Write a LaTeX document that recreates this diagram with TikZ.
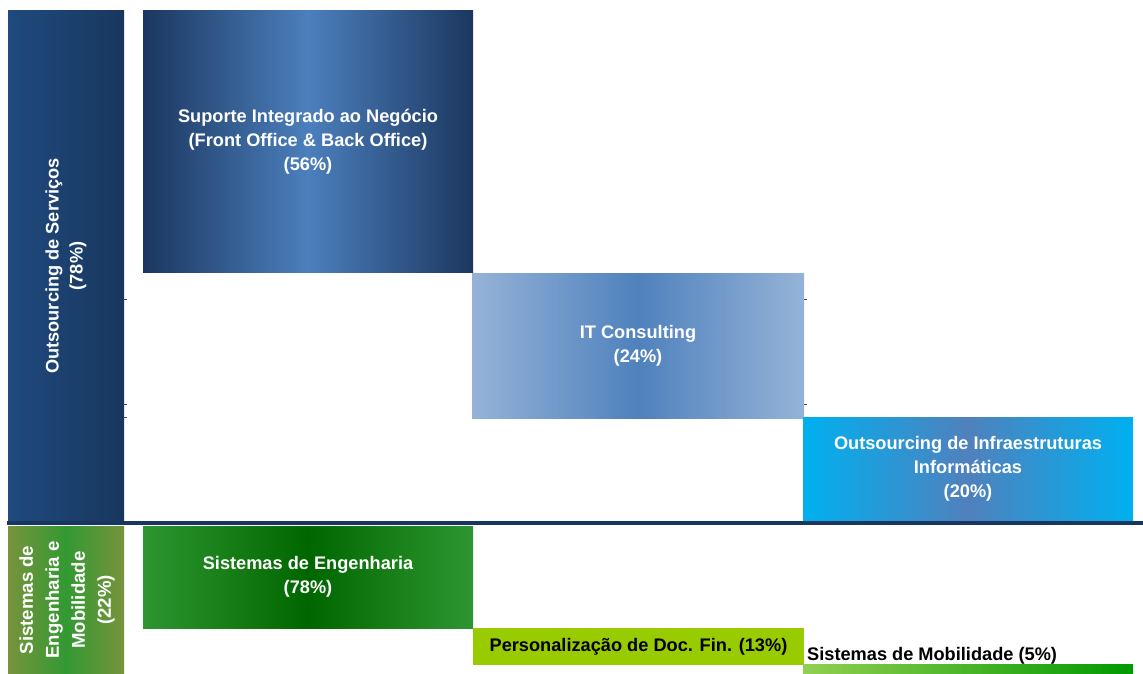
\documentclass[tikz,border=0pt]{standalone}
\usepackage{fontspec}
\setmainfont{Liberation Sans}
\begin{document}
\begin{tikzpicture}[x=1pt,y=-1pt,
  box/.style={anchor=north west,inner sep=0pt,outer sep=0pt,draw=none,
    text=white,align=center,font=\bfseries\fontsize{18.2}{24}\selectfont},
  sidebar/.style={box},
  vlabel/.style={rotate=90,text=white,align=center,inner sep=0pt},
  tick/.style={draw=black!70,line width=0.6pt}]
\useasboundingbox (0,0) rectangle (1143,674);
% left bars
\node[sidebar,minimum width=116pt,minimum height=510pt,
  left color={rgb,255:red,31;green,74;blue,126},right color={rgb,255:red,24;green,55;blue,94}]
  (os) at (8,11) {};
\node[vlabel,font=\bfseries\fontsize{18.2}{24}\selectfont] (oslbl) at (os.center) {Outsourcing de Serviços\\(78\%)};
\node[sidebar,minimum width=116pt,minimum height=148pt,
  left color={rgb,255:red,119;green,147;blue,60},right color={rgb,255:red,119;green,147;blue,60},
  middle color={rgb,255:red,51;green,153;blue,51}]
  (se) at (8,526) {};
\node[vlabel,font=\bfseries\fontsize{18.6}{26}\selectfont] (selbl) at ([xshift=1pt]se.center) {Sistemas de\\Engenharia e\\Mobilidade\\(22\%)};
% top boxes
\node[box,minimum width=330pt,minimum height=261pt,
  left color={rgb,255:red,27;green,55;blue,95},right color={rgb,255:red,27;green,55;blue,95},
  middle color={rgb,255:red,76;green,127;blue,189}]
  (b1) at (143,11) {Suporte Integrado ao Negócio\\(Front Office \& Back Office)\\(56\%)};
\node[box,minimum width=332pt,minimum height=145pt,
  left color={rgb,255:red,149;green,179;blue,215},right color={rgb,255:red,149;green,179;blue,215},
  middle color={rgb,255:red,79;green,129;blue,189}]
  (b2) at (472,273) {IT Consulting\\(24\%)};
\node[box,minimum width=330pt,minimum height=104pt,
  left color={rgb,255:red,0;green,176;blue,240},right color={rgb,255:red,0;green,176;blue,240},
  middle color={rgb,255:red,79;green,129;blue,189}]
  (b3) at (803,417) {Outsourcing de Infraestruturas\\Informáticas\\(20\%)};
% separator line
\coordinate (sepL) at (7,523);
\coordinate (sepR) at (1143,523);
\draw[line width=4pt,draw={rgb,255:red,24;green,55;blue,94}] (sepL) -- (sepR);
% bottom boxes
\node[box,minimum width=330pt,minimum height=102pt,
  left color={rgb,255:red,46;green,150;blue,48},right color={rgb,255:red,46;green,150;blue,48},
  middle color={rgb,255:red,0;green,102;blue,0}]
  (g1) at (143,526) {Sistemas de Engenharia\\(78\%)};
\node[box,minimum width=331pt,minimum height=37pt,fill={rgb,255:red,153;green,204;blue,0},text=black]
  (g2) at (473,628) {Personalização de Doc. Fin. (13\%)};
\node[box,minimum width=330pt,minimum height=10pt,
  left color={rgb,255:red,146;green,208;blue,80},right color={rgb,255:red,0;green,153;blue,0}]
  (g3) at (803,664) {};
\node[anchor=base west,inner sep=0pt,text=black,font=\bfseries\fontsize{18.2}{24}\selectfont]
  (g3lbl) at (807,660) {Sistemas de Mobilidade (5\%)};
% small ticks
\draw[tick] (os.north east |- 0,299) -- +(3,0);
\draw[tick] (os.north east |- 0,404) -- +(3,0);
\draw[tick] (os.north east |- 0,417) -- +(3,0);
\draw[tick] (b2.north east |- 0,299) -- +(3,0);
\draw[tick] (b2.north east |- 0,404) -- +(3,0);
\end{tikzpicture}
\end{document}
